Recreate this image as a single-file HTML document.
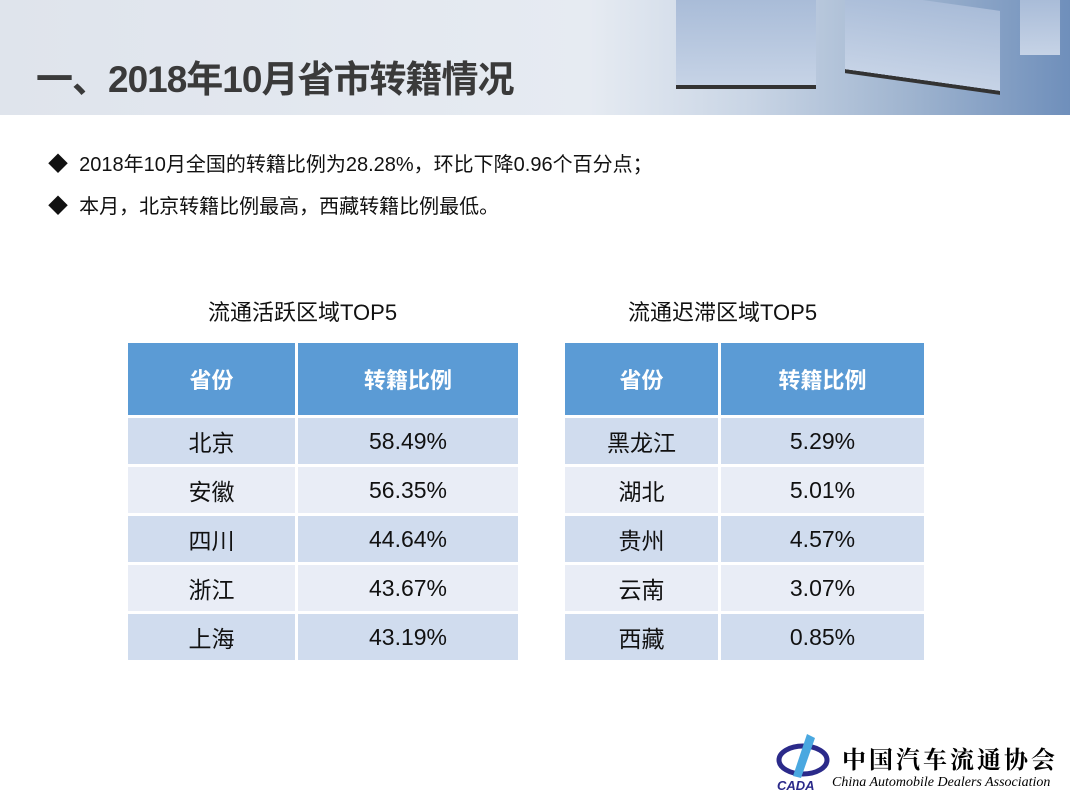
<!DOCTYPE html>
<html><head><meta charset="utf-8"><style>
body{margin:0;width:1070px;height:801px;background:#fff;position:relative;overflow:hidden;font-family:"Liberation Sans","Noto Sans CJK SC",sans-serif}
.hdr{position:absolute;left:0;top:0;width:1070px;height:115px;background:linear-gradient(90deg,#dfe4ec 0%,#e6ebf2 55%,#c9d5e5 70%,#9fb4cf 85%,#6f8fbb 100%)}
.box{position:absolute;background:linear-gradient(180deg,#a9bcd8,#c6d3e6);}
.title{position:absolute;left:36px;top:49px;font-size:37px;font-weight:bold;color:#3a3a3a;letter-spacing:-1px}
.b{position:absolute;left:48px;font-size:20px;color:#111}
.cap{position:absolute;font-size:22px;color:#111}
table{position:absolute;border-collapse:separate;border-spacing:3px;font-size:23px}
td{text-align:center;color:#111;height:46px;padding:0}
th{background:#5b9bd5;color:#fff;font-size:22px;height:72px;padding:0}
tr.o td{background:#d0dcee}tr.e td{background:#e9edf6}
</style></head><body>
<div class="hdr"></div>
<div class="box" style="left:676px;top:0;width:140px;height:85px;box-shadow:0 4px 0 #333"></div>
<div class="box" style="left:845px;top:0;width:155px;height:80px;transform:skewY(8deg);box-shadow:0 4px 0 #333"></div>
<div class="box" style="left:1020px;top:0;width:40px;height:55px"></div>
<div class="title">一、2018年10月省市转籍情况</div>
<div class="b" style="top:148px">◆&nbsp; 2018年10月全国的转籍比例为28.28%，环比下降0.96个百分点；</div>
<div class="b" style="top:190px">◆&nbsp; 本月，北京转籍比例最高，西藏转籍比例最低。</div>
<div class="cap" style="left:208px;top:295px">流通活跃区域TOP5</div>
<div class="cap" style="left:628px;top:295px">流通迟滞区域TOP5</div>
<table style="left:125px;top:340px">
<tr><th style="width:167px">省份</th><th style="width:220px">转籍比例</th></tr>
<tr class="o"><td>北京</td><td>58.49%</td></tr>
<tr class="e"><td>安徽</td><td>56.35%</td></tr>
<tr class="o"><td>四川</td><td>44.64%</td></tr>
<tr class="e"><td>浙江</td><td>43.67%</td></tr>
<tr class="o"><td>上海</td><td>43.19%</td></tr>
</table>
<table style="left:562px;top:340px">
<tr><th style="width:153px">省份</th><th style="width:203px">转籍比例</th></tr>
<tr class="o"><td>黑龙江</td><td>5.29%</td></tr>
<tr class="e"><td>湖北</td><td>5.01%</td></tr>
<tr class="o"><td>贵州</td><td>4.57%</td></tr>
<tr class="e"><td>云南</td><td>3.07%</td></tr>
<tr class="o"><td>西藏</td><td>0.85%</td></tr>
</table>
<svg style="position:absolute;left:775px;top:728px" width="60" height="65"><ellipse cx="28" cy="32" rx="24" ry="14" fill="none" stroke="#2b2a8a" stroke-width="5"/><path d="M32 6 L40 10 L26 50 L18 48 Z" fill="#4aa8e0"/><text x="2" y="62" font-size="13" font-weight="bold" font-style="italic" fill="#2b2a8a" font-family="Liberation Sans">CADA</text></svg>
<div style="position:absolute;left:842px;top:740px;font-size:24px;font-weight:bold;font-family:'Noto Serif CJK SC',serif;letter-spacing:3px">中国汽车流通协会</div>
<div style="position:absolute;left:832px;top:775px;font-size:14px;font-style:italic;font-family:'Liberation Serif',serif">China Automobile Dealers Association</div>
</body></html>
